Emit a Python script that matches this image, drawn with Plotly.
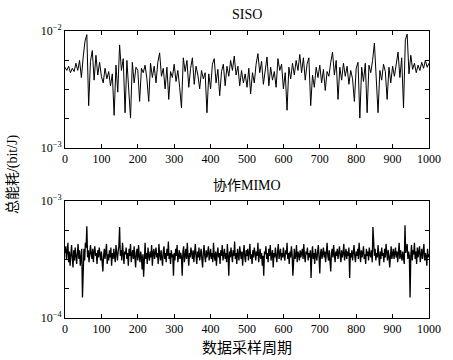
import plotly.graph_objects as go
from plotly.subplots import make_subplots

# SISO total energy consumption (units of 1e-3), sampled every 5 periods
siso_x = list(range(0, 1001, 5))
siso_vals = [
    4.9, 4.6, 5.0, 4.4, 4.8, 4.5, 5.3, 4.6, 5.6, 4.0,
    6.0, 8.2, 9.3, 2.3, 5.5, 6.8, 3.8, 6.2, 4.2, 5.4,
    4.1, 3.6, 4.8, 3.9, 4.5, 3.4, 4.3, 1.9, 5.1, 3.0,
    7.6, 4.6, 5.8, 2.0, 5.6, 3.2, 1.8, 5.4, 3.6, 4.9,
    4.6, 2.5, 4.8, 4.4, 5.1, 3.9, 2.5, 5.3, 4.0, 5.0,
    3.6, 5.4, 6.5, 4.1, 4.8, 3.2, 4.9, 2.6, 4.5, 4.0,
    5.2, 3.7, 4.6, 3.3, 2.2, 5.9, 4.5, 5.6, 3.3, 4.8,
    5.9, 3.5, 5.0, 4.2, 3.2, 4.6, 3.9, 4.4, 2.0, 4.3,
    3.2, 5.2, 5.8, 3.6, 4.7, 2.8, 4.5, 5.2, 3.4, 5.0,
    4.1, 5.6, 4.6, 6.1, 4.2, 5.0, 3.4, 4.6, 3.6, 4.3,
    3.3, 4.8, 2.9, 4.4, 3.6, 5.2, 6.4, 4.4, 5.5, 3.5,
    4.6, 6.0, 3.4, 4.9, 3.8, 4.5, 3.3, 5.8, 4.6, 5.2,
    3.2, 4.4, 2.1, 4.9, 3.9, 5.3, 4.2, 5.6, 4.6, 6.3,
    4.4, 5.9, 3.8, 5.2, 5.9, 2.3, 4.2, 3.3, 4.9, 4.0,
    5.1, 3.6, 4.7, 3.1, 4.5, 4.1, 5.4, 6.6, 4.2, 5.6,
    2.6, 4.9, 3.8, 5.3, 4.1, 5.0, 3.5, 4.6, 3.9, 2.5,
    4.8, 5.4, 1.8, 4.9, 3.7, 5.3, 2.0, 5.1, 4.4, 5.6,
    7.9, 3.9, 2.0, 4.6, 3.8, 5.2, 4.5, 2.6, 4.9, 3.6,
    5.0, 4.1, 5.5, 6.6, 4.0, 5.9, 2.2, 8.4, 9.4, 4.3,
    6.2, 4.7, 5.3, 4.4, 5.1, 4.6, 5.4, 4.8, 5.6, 4.9,
    5.3,
]

# Cooperative MIMO total energy consumption (units of 1e-4), sampled every 2 periods
mimo_x = list(range(0, 1001, 2))
mimo_vals = [
    3.6, 4.1, 3.2, 3.9, 4.4, 3.0, 3.7, 2.8, 3.5, 4.2, 3.3, 2.7, 3.8, 3.1, 4.0, 3.4, 2.9, 3.6, 4.3, 3.2, 3.8, 2.8, 3.5, 3.9, 1.5,
    3.4, 3.9, 3.1, 4.4, 4.0, 6.1, 3.3, 3.8, 3.0, 3.6, 4.2, 3.5, 3.2, 3.9, 3.0, 3.7, 4.1, 3.4, 3.6, 2.9, 3.8, 3.3, 4.0, 3.5, 3.1,
    3.7, 3.0, 2.5, 3.4, 3.9, 3.2, 3.6, 4.3, 2.9, 3.5, 3.1, 3.8, 3.3, 4.0, 2.8, 3.6, 3.2, 3.9, 3.4, 3.0, 4.2, 3.5, 3.1, 3.7, 4.1,
    6.0, 3.4, 3.8, 3.1, 4.4, 3.3, 2.9, 3.7, 3.5, 4.0, 3.2, 3.6, 2.8, 3.9, 3.4, 4.3, 3.0, 3.5, 3.8, 3.2, 4.1, 3.3, 2.7, 3.6, 3.9,
    3.1, 4.2, 3.4, 3.0, 3.7, 3.3, 2.6, 3.5, 2.25, 3.8, 4.4, 3.2, 3.6, 2.9, 4.0, 3.4, 3.1, 3.7, 3.3, 4.2, 2.8, 3.6, 3.9, 3.2, 3.5,
    4.0, 3.3, 3.6, 2.9, 4.3, 3.5, 3.1, 3.8, 3.4, 2.8, 3.7, 4.1, 3.2, 3.6, 3.0, 3.9, 3.4, 4.5, 3.2, 3.6, 2.9, 3.8, 3.3, 3.5, 2.3,
    3.6, 3.1, 3.9, 3.4, 4.2, 3.0, 3.5, 3.8, 3.2, 3.6, 3.3, 2.3, 3.7, 4.1, 3.0, 3.5, 3.9, 3.2, 4.4, 3.4, 2.8, 3.6, 3.3, 4.0, 3.5,
    3.2, 3.8, 3.0, 3.6, 4.3, 3.4, 2.9, 3.7, 3.3, 4.0, 3.1, 3.5, 3.9, 3.2, 2.7, 3.6, 4.2, 3.4, 3.0, 3.8, 3.3, 3.6, 4.1, 3.1, 3.5,
    3.9, 3.2, 3.6, 3.0, 4.4, 3.4, 3.1, 3.7, 2.8, 3.5, 4.0, 3.3, 3.6, 2.9, 3.8, 3.4, 4.2, 3.1, 3.5, 3.9, 3.2, 3.6, 3.0, 4.3, 3.4,
    2.3, 3.7, 3.3, 4.0, 3.5, 3.0, 3.8, 3.4, 4.5, 3.2, 3.6, 2.9, 3.9, 3.4, 3.1, 4.1, 3.5, 3.2, 3.7, 2.8, 3.6, 4.2, 3.3, 3.0, 3.8,
    3.4, 3.9, 3.1, 3.6, 4.3, 3.2, 3.5, 2.9, 3.8, 3.3, 4.0, 3.6, 3.1, 3.7, 3.4, 4.4, 3.0, 3.5, 3.9, 3.2, 3.6, 2.8, 3.4, 2.3, 3.7,
    3.5, 4.1, 3.2, 3.6, 3.0, 3.9, 3.4, 4.2, 3.1, 3.5, 3.8, 2.7, 3.6, 3.3, 4.0, 3.4, 3.0, 3.7, 4.3, 3.2, 3.5, 3.9, 3.1, 3.6, 3.3,
    4.0, 3.4, 3.1, 3.8, 3.5, 4.4, 3.2, 3.6, 2.9, 3.7, 3.3, 4.1, 3.5, 2.3, 3.6, 3.9, 3.2, 3.4, 4.2, 3.0, 3.7, 3.5, 3.1, 3.8, 3.3,
    3.6, 3.9, 3.2, 4.3, 3.4, 3.0, 3.7, 3.5, 4.0, 3.1, 3.6, 3.3, 3.8, 2.2, 3.5, 4.1, 3.2, 3.6, 2.9, 3.9, 3.4, 3.1, 3.7, 4.2, 3.3,
    2.4, 3.6, 3.9, 3.2, 3.5, 4.0, 3.3, 3.7, 3.0, 3.6, 4.4, 3.4, 3.1, 3.8, 3.2, 2.5, 3.6, 3.9, 3.3, 4.2, 3.5, 3.0, 3.7, 3.4, 3.9,
    3.2, 3.6, 4.1, 3.4, 3.0, 3.8, 3.3, 3.6, 4.3, 3.1, 3.5, 3.9, 3.2, 3.7, 3.4, 4.0, 2.2, 3.6, 3.3, 3.8, 3.1, 3.5, 4.2, 3.4, 3.0,
    3.7, 3.4, 3.9, 3.2, 4.4, 3.5, 3.0, 3.8, 3.3, 3.6, 4.1, 3.2, 3.5, 2.9, 3.9, 3.4, 3.7, 3.1, 4.0, 3.5, 3.3, 3.8, 3.0, 6.0, 3.6,
    3.4, 3.9, 3.1, 3.6, 3.3, 4.2, 3.5, 2.8, 3.7, 3.2, 4.0, 3.4, 3.6, 3.0, 3.9, 3.3, 4.3, 3.5, 3.1, 3.8, 3.4, 2.7, 3.6, 4.1, 3.2,
    3.5, 3.9, 3.2, 3.6, 4.0, 3.3, 3.7, 3.0, 3.5, 4.4, 3.2, 3.8, 3.4, 3.1, 3.7, 3.3, 2.9, 6.2, 3.6, 3.9, 4.3, 3.2, 3.7, 3.4, 1.5,
    3.4, 4.2, 3.1, 3.8, 3.5, 4.4, 3.2, 3.7, 2.9, 4.0, 3.3, 3.6, 4.1, 3.0, 3.5, 3.9, 3.2, 3.7, 4.3, 3.1, 3.6, 3.4, 2.8, 3.9, 3.3,
    3.5,
]

x_ticks = [0, 100, 200, 300, 400, 500, 600, 700, 800, 900, 1000]
siso_yticks = [1e-3, 10 ** -2.75, 10 ** -2.5, 10 ** -2.25, 1e-2]
siso_ytext = ["10<sup>−3</sup>", "", "", "", "10<sup>−2</sup>"]
mimo_yticks = [1e-4, 10 ** -3.75, 10 ** -3.5, 10 ** -3.25, 1e-3]
mimo_ytext = ["10<sup>−4</sup>", "", "", "", "10<sup>−3</sup>"]

SERIF = "Liberation Serif, Noto Sans CJK SC, serif"

fig = make_subplots(rows=2, cols=1, vertical_spacing=0.185)
fig.add_trace(go.Scatter(x=siso_x, y=[v * 1e-3 for v in siso_vals], mode="lines",
                         line=dict(color="black", width=1)), row=1, col=1)
fig.add_trace(go.Scatter(x=mimo_x, y=[v * 1e-4 for v in mimo_vals], mode="lines",
                         line=dict(color="black", width=1.3)), row=2, col=1)

axis_common = dict(showline=True, linecolor="black", linewidth=1, mirror="ticks",
                   ticks="inside", ticklen=4, tickcolor="black", showgrid=False,
                   zeroline=False, tickfont=dict(family=SERIF, size=12, color="black"))

fig.update_xaxes(range=[0, 1000], tickvals=x_ticks, **axis_common)
fig.update_yaxes(type="log", **axis_common)
fig.update_yaxes(range=[-3, -2], tickvals=siso_yticks, ticktext=siso_ytext, row=1, col=1)
fig.update_yaxes(range=[-4, -3], tickvals=mimo_yticks, ticktext=mimo_ytext, row=2, col=1)

fig.update_layout(
    width=453, height=360,
    margin=dict(l=65, r=21, t=31, b=42),
    plot_bgcolor="white", paper_bgcolor="white",
    showlegend=False,
    font=dict(family=SERIF, color="black"),
    annotations=[
        dict(text="SISO", x=0.5, y=1.059, xref="paper", yref="paper",
             showarrow=False, font=dict(family=SERIF, size=14), xanchor="center", yanchor="middle"),
        dict(text="协作MIMO", x=0.5, y=0.463, xref="paper", yref="paper",
             showarrow=False, font=dict(family=SERIF, size=14), xanchor="center", yanchor="middle"),
        dict(text="数据采样周期", x=0.5, y=-0.105, xref="paper", yref="paper",
             showarrow=False, font=dict(family=SERIF, size=15), xanchor="center", yanchor="middle"),
        dict(text="总能耗/(bit/J)", x=-0.144, y=0.5, xref="paper", yref="paper", textangle=-90,
             showarrow=False, font=dict(family=SERIF, size=14), xanchor="center", yanchor="middle"),
    ],
)

fig.write_html("out.html", config={"displayModeBar": False},
               post_script="document.body.style.margin='0';document.body.style.padding='0';")
